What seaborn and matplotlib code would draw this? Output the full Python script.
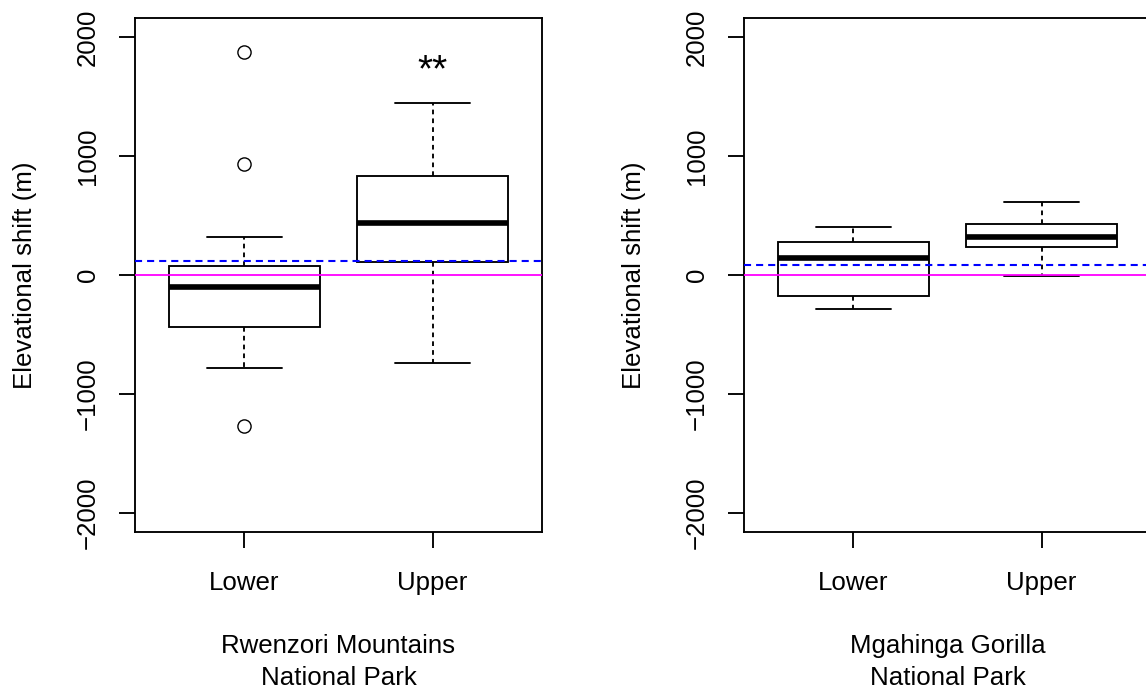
import pandas as pd
import matplotlib
matplotlib.use("Agg")
import matplotlib.pyplot as plt
import seaborn as sns

# values (m)
zones = ["Lower", "Upper"]
parks = ["Rwenzori Mountains\nNational Park", "Mgahinga Gorilla\nNational Park"]

whisker_low = [[-782, -737], [-289, -9]]
q1 = [[-436, 111], [-174, 235]]
median = [[-99, 436], [144, 319]]
q3 = [[75, 833], [277, 427]]
whisker_high = [[316, 1444], [403, 611]]
outliers_low = [[[-1272], []], [[], []]]
outliers_high = [[[932, 1874], []], [[], []]]

mean_shift = [114, 81]          # blue dashed reference line
star_labels = [["", "**"], ["", ""]]
star_y = 1625

y_ticks = [-2000, -1000, 0, 1000, 2000]
y_tick_labels = ["\u22122000", "\u22121000", "0", "1000", "2000"]


def build_table(p):
    # long table whose quartiles / whiskers / fliers reproduce the summary above
    rows = []
    for z, zone in enumerate(zones):
        vals = (outliers_low[p][z] + [whisker_low[p][z]]
                + [q1[p][z]] * 6 + [median[p][z]] * 6 + [q3[p][z]] * 6
                + [whisker_high[p][z]] + outliers_high[p][z])
        rows += [{"zone": zone, "shift": v} for v in vals]
    return pd.DataFrame(rows)


LW = 1.35
sns.set_theme(style="ticks", rc={
    "axes.edgecolor": "black", "axes.linewidth": LW,
    "xtick.color": "black", "ytick.color": "black",
    "text.color": "black", "axes.labelcolor": "black",
    "xtick.major.size": 11.3, "ytick.major.size": 11.3,
    "xtick.major.width": LW, "ytick.major.width": LW,
})
plt.rcParams["font.family"] = ["Liberation Sans", "DejaVu Sans"]
FS = 18.6

fig = plt.figure(figsize=(11.46, 6.93), dpi=100)
axes = [fig.add_axes([0.1178, 0.2323, 0.3551, 0.7417]),
        fig.add_axes([0.6492, 0.2323, 0.3551, 0.7417])]

for p, ax in enumerate(axes):
    df = build_table(p)
    sns.boxplot(
        data=df, x="zone", y="shift", order=zones, ax=ax,
        color="white", linecolor="black", linewidth=LW, width=0.8, whis=1.5,
        medianprops=dict(linewidth=3 * LW, solid_capstyle="butt", color="black"),
        whiskerprops=dict(linestyle=(0, (2.5, 2.2)), linewidth=LW),
        capprops=dict(linewidth=LW),
        flierprops=dict(marker="o", markersize=9.5, markerfacecolor="none",
                        markeredgecolor="black", markeredgewidth=1.0),
    )
    ax.axhline(0, color="#FF00FF", linewidth=1.3, zorder=4)
    ax.axhline(mean_shift[p], color="#0000FF", linewidth=1.5,
               linestyle=(0, (3.4, 2.4)), zorder=4)
    for z in range(len(zones)):
        if star_labels[p][z]:
            ax.text(z, star_y, star_labels[p][z], ha="center", va="baseline",
                    fontsize=FS * 1.5)

    ax.set_xlim(-0.58, 1.58)
    ax.set_ylim(-2160, 2160)
    ax.set_yticks(y_ticks)
    ax.set_yticklabels(y_tick_labels, fontsize=FS, rotation=90, va="center")
    ax.set_xticks(range(len(zones)))
    ax.set_xticklabels(zones, fontsize=FS)
    ax.tick_params(axis="x", pad=16.5)
    ax.tick_params(axis="y", pad=13.8)

    ax.set_ylabel("Elevational shift (m)", fontsize=FS, va="center")
    ax.yaxis.set_label_coords(-0.271, 0.5)
    ax.set_xlabel(parks[p], fontsize=FS, va="top", linespacing=1.45)
    ax.xaxis.set_label_coords(0.5, -0.198)
    for side in ["top", "right", "bottom", "left"]:
        ax.spines[side].set_visible(True)

fig.savefig("out.png", dpi=100)
